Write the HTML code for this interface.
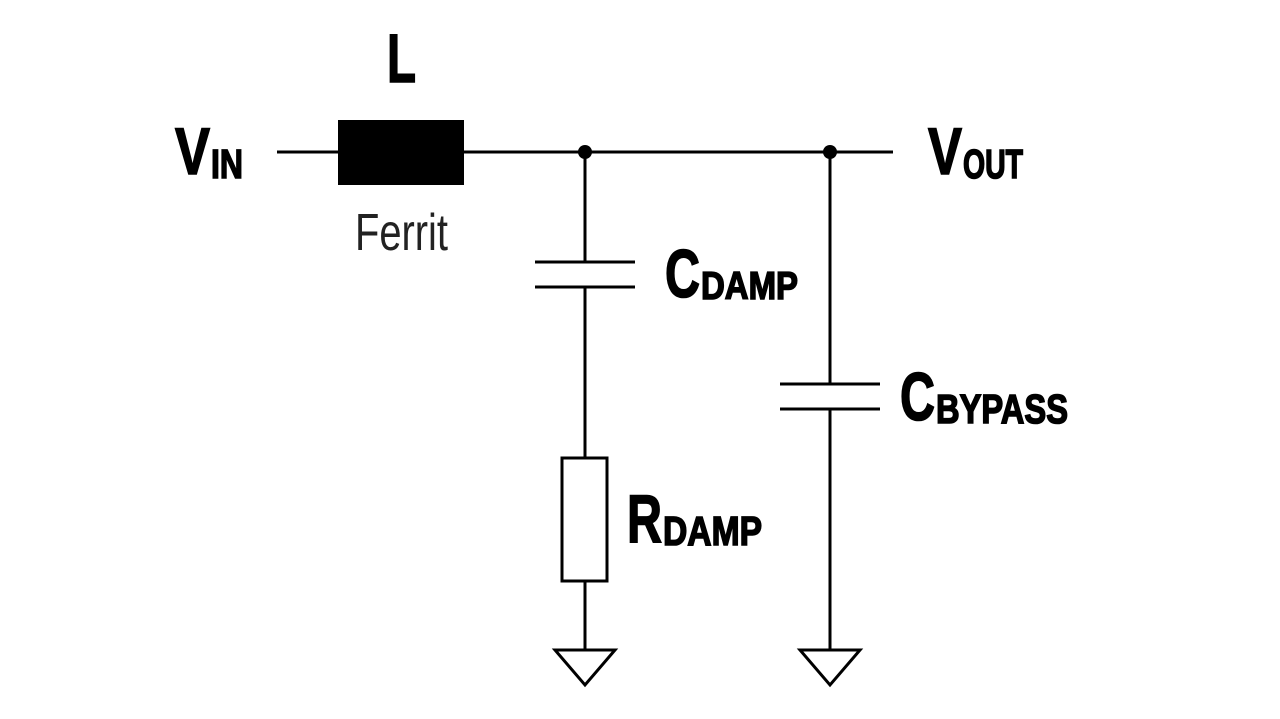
<!DOCTYPE html>
<html><head><meta charset="utf-8"><style>
html,body{margin:0;padding:0;background:#fff;}
svg{display:block;}
text{font-family:"Liberation Sans",sans-serif;fill:#000;}
.b{font-weight:bold;stroke:#000;stroke-width:1.6;}
</style></head><body>
<svg width="1280" height="719" viewBox="0 0 1280 719" xmlns="http://www.w3.org/2000/svg">
<g stroke="#000" stroke-width="3" fill="none">
<line x1="277" y1="152" x2="893" y2="152"/>
<line x1="585" y1="152" x2="585" y2="262"/>
<line x1="585" y1="287" x2="585" y2="457"/>
<line x1="585" y1="581" x2="585" y2="650"/>
<line x1="830" y1="152" x2="830" y2="384"/>
<line x1="830" y1="409" x2="830" y2="650"/>
<line x1="535" y1="262" x2="635" y2="262"/>
<line x1="535" y1="287" x2="635" y2="287"/>
<line x1="780" y1="384" x2="880" y2="384"/>
<line x1="780" y1="409" x2="880" y2="409"/>
<rect x="562" y="458" width="45" height="123"/>
<polygon points="555,650 615,650 585,685"/>
<polygon points="800,650 860,650 830,685"/>
</g>
<rect x="338" y="120" width="126" height="65" fill="#000"/>
<circle cx="585" cy="152" r="7" fill="#000"/>
<circle cx="830" cy="152" r="7" fill="#000"/>

<text class="b" x="387" y="82" font-size="69" textLength="29" lengthAdjust="spacingAndGlyphs">L</text>
<text x="355" y="250" font-size="52" textLength="93" lengthAdjust="spacingAndGlyphs" style="fill:#222">Ferrit</text>

<text class="b" x="175" y="174" font-size="66" textLength="35" lengthAdjust="spacingAndGlyphs">V</text>
<text class="b" x="211" y="178" font-size="41" textLength="32" lengthAdjust="spacingAndGlyphs">IN</text>

<text class="b" x="928" y="174" font-size="66" textLength="34" lengthAdjust="spacingAndGlyphs">V</text>
<text class="b" x="963" y="178" font-size="41" textLength="60" lengthAdjust="spacingAndGlyphs">OUT</text>

<text class="b" x="665" y="297" font-size="68" textLength="35" lengthAdjust="spacingAndGlyphs">C</text>
<text class="b" x="701" y="299" font-size="39" textLength="97" lengthAdjust="spacingAndGlyphs">DAMP</text>

<text class="b" x="900" y="420" font-size="68" textLength="35" lengthAdjust="spacingAndGlyphs">C</text>
<text class="b" x="936" y="423" font-size="41" textLength="132" lengthAdjust="spacingAndGlyphs">BYPASS</text>

<text class="b" x="627" y="542" font-size="68" textLength="35" lengthAdjust="spacingAndGlyphs">R</text>
<text class="b" x="663" y="545" font-size="41" textLength="99" lengthAdjust="spacingAndGlyphs">DAMP</text>
</svg>
</body></html>
